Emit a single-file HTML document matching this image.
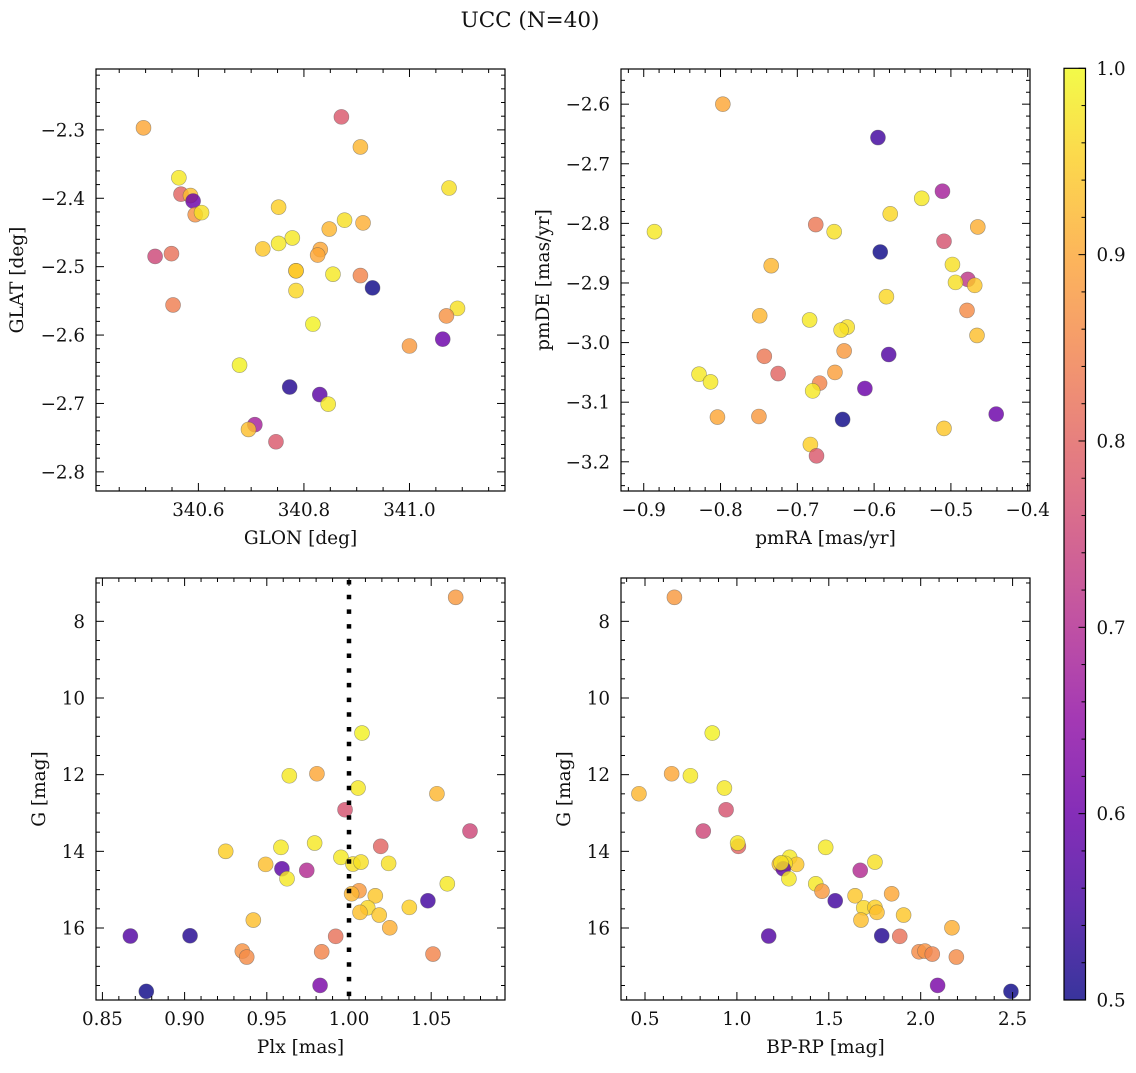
<!DOCTYPE html>
<html><head><meta charset="utf-8">
<style>
html,body{margin:0;padding:0;background:#fff;}
svg text{font-family:"DejaVu Serif","Liberation Serif",serif;fill:#111;}
</style></head>
<body>
<svg id="fig" width="1136" height="1068" viewBox="0 0 1136 1068" xmlns="http://www.w3.org/2000/svg">
<text x="530" y="27" font-size="21.5" text-anchor="middle">UCC (N=40)</text>
</svg>
<script>
// ---------- DATA ----------
const glon = [340.496,340.871,340.907,341.075,340.563,340.567,340.585,340.590,340.594,340.606,340.752,340.877,340.912,340.848,340.778,340.752,340.722,340.831,340.826,340.518,340.549,340.785,340.855,340.907,340.930,340.785,340.552,341.091,341.070,340.817,341.000,341.063,340.678,340.773,340.830,340.846,340.707,340.695,340.747,340.785];
const glat = [-2.297,-2.281,-2.325,-2.385,-2.370,-2.394,-2.396,-2.404,-2.424,-2.421,-2.413,-2.432,-2.436,-2.445,-2.458,-2.466,-2.474,-2.475,-2.483,-2.485,-2.481,-2.506,-2.511,-2.513,-2.531,-2.535,-2.556,-2.561,-2.572,-2.584,-2.616,-2.606,-2.644,-2.676,-2.687,-2.701,-2.731,-2.738,-2.756,-2.506];
const probA = [0.90,0.78,0.92,0.97,0.98,0.80,0.93,0.60,0.87,0.97,0.95,0.97,0.91,0.92,0.98,0.98,0.94,0.90,0.90,0.75,0.82,0.90,0.98,0.85,0.50,0.96,0.84,0.97,0.87,0.99,0.88,0.60,0.99,0.52,0.58,0.98,0.68,0.93,0.78,0.95];

const pmra = [-0.797,-0.595,-0.511,-0.538,-0.579,-0.676,-0.652,-0.886,-0.465,-0.509,-0.592,-0.498,-0.734,-0.478,-0.494,-0.469,-0.584,-0.479,-0.749,-0.684,-0.635,-0.643,-0.466,-0.639,-0.581,-0.743,-0.828,-0.725,-0.651,-0.813,-0.671,-0.612,-0.680,-0.441,-0.804,-0.750,-0.641,-0.509,-0.683,-0.675];
const pmde = [-2.600,-2.656,-2.746,-2.758,-2.784,-2.802,-2.814,-2.814,-2.806,-2.830,-2.848,-2.869,-2.871,-2.894,-2.899,-2.904,-2.923,-2.946,-2.955,-2.962,-2.974,-2.979,-2.988,-3.014,-3.020,-3.023,-3.053,-3.052,-3.050,-3.066,-3.068,-3.077,-3.081,-3.120,-3.125,-3.124,-3.129,-3.144,-3.171,-3.190];
const probB = [0.90,0.55,0.68,0.98,0.96,0.83,0.97,0.98,0.91,0.77,0.50,0.97,0.92,0.72,0.97,0.94,0.96,0.86,0.92,0.98,0.97,0.97,0.93,0.88,0.57,0.83,0.98,0.80,0.89,0.98,0.85,0.60,0.98,0.60,0.90,0.88,0.50,0.94,0.95,0.78];

const plx = [1.0649,1.0079,0.9637,0.9805,1.0055,1.0535,0.9976,1.0736,1.0193,0.9250,0.9586,0.9791,0.9951,1.0024,1.0073,1.0241,0.9493,0.9592,0.9743,0.9623,1.0598,1.0061,1.0016,1.0160,1.0480,1.0114,1.0367,1.0067,1.0184,0.9418,1.0248,0.8670,0.9033,0.9919,0.9351,0.9378,0.9834,1.0511,0.9824,0.8767];
const gmagC = [7.374,10.914,12.028,11.976,12.349,12.498,12.915,13.471,13.870,14.000,13.896,13.784,14.157,14.332,14.280,14.314,14.340,14.454,14.496,14.715,14.846,15.028,15.107,15.159,15.289,15.472,15.462,15.592,15.662,15.793,15.994,16.210,16.202,16.218,16.602,16.758,16.620,16.680,17.497,17.653];
const probC = [0.88,0.99,0.98,0.90,0.98,0.92,0.77,0.75,0.80,0.95,0.98,0.98,0.98,0.97,0.97,0.97,0.93,0.58,0.70,0.98,0.98,0.88,0.92,0.94,0.55,0.96,0.95,0.93,0.94,0.93,0.91,0.57,0.52,0.82,0.87,0.86,0.85,0.85,0.62,0.50];

const bprp = [0.660,0.866,0.645,0.747,0.467,0.932,0.941,0.817,1.008,1.004,1.483,1.751,1.231,1.287,1.325,1.262,1.252,1.671,1.283,1.429,1.463,1.643,1.842,1.535,1.690,1.751,1.762,1.907,1.675,2.170,1.173,1.788,1.886,1.991,2.023,2.063,2.194,2.092,2.491,1.240];
const gmagD = [7.374,10.914,11.976,12.028,12.498,12.349,12.915,13.471,13.870,13.784,13.896,14.280,14.332,14.157,14.340,14.314,14.454,14.496,14.715,14.846,15.040,15.159,15.107,15.289,15.472,15.462,15.592,15.662,15.793,15.994,16.210,16.202,16.218,16.620,16.602,16.680,16.758,17.497,17.653,14.300];
const probD = [0.88,0.99,0.90,0.98,0.92,0.98,0.77,0.75,0.80,0.98,0.98,0.97,0.93,0.98,0.94,0.97,0.58,0.70,0.98,0.98,0.88,0.94,0.90,0.55,0.96,0.95,0.93,0.94,0.93,0.91,0.57,0.52,0.82,0.86,0.87,0.85,0.86,0.62,0.50,0.97];

const cbTicks = [0.5,0.6,0.7,0.8,0.9,1.0];

// ---------- HELPERS ----------
const NS = "http://www.w3.org/2000/svg";
const svg = document.getElementById('fig');
function el(tag, attrs, parent){ const e=document.createElementNS(NS,tag); for(const k in attrs) e.setAttribute(k,attrs[k]); (parent||svg).appendChild(e); return e; }
const plasmaStops = ["#0d0887","#41049d","#6a00a8","#8f0da4","#b12a90","#cc4778","#e16462","#f2844b","#fca636","#fcce25","#f0f921"];
function hex(h){return [parseInt(h.substr(1,2),16),parseInt(h.substr(3,2),16),parseInt(h.substr(5,2),16)];}
function plasma(t){ t=Math.max(0,Math.min(1,t)); const f=t*10; const i=Math.min(9,Math.floor(f)); const r=f-i; const a=hex(plasmaStops[i]), b=hex(plasmaStops[i+1]); return 'rgb('+a.map((v,k)=>Math.round(v+(b[k]-v)*r)).join(',')+')'; }
function fmt(v,d){ const s=Math.abs(v).toFixed(d); return (v<-1e-9?'\u2212':'')+s; }
const TFS = 18.3, LFS = 18.5;

function panel(o){
  const {name,x0,y0,x1,y1,xd,yd,xs,ys,cs,xMaj,xMin,yMaj,yMin,xDec,yDec,xlabel,ylabel,ylabelX} = o;
  const g = el('g',{});
  
  
  const sx = v => x0 + (v-xd[0])/(xd[1]-xd[0])*(x1-x0);
  const sy = v => y1 - (v-yd[0])/(yd[1]-yd[0])*(y1-y0);
  const eps=1e-9;
  const pg = el('g',{},g);
  
  
  for(let i=0;i<xs.length;i++){
    const c = el('circle',{cx:sx(xs[i]).toFixed(2),cy:sy(ys[i]).toFixed(2),r:7.5,fill:plasma((cs[i]-0.5)/0.5),'fill-opacity':0.82,stroke:'#555','stroke-opacity':0.55,'stroke-width':0.6},pg);
    
    
  }
  if(o.extra) o.extra(g,sx,sy);
  const tg = el('g',{stroke:'#000','stroke-width':1},g);
  const xmin=Math.min(xd[0],xd[1]), xmax=Math.max(xd[0],xd[1]);
  const ymin=Math.min(yd[0],yd[1]), ymax=Math.max(yd[0],yd[1]);
  for(let v=Math.ceil(xmin/xMin-eps)*xMin; v<=xmax+eps; v+=xMin){
    const isMaj = Math.abs(v/xMaj-Math.round(v/xMaj))<1e-6; const L=isMaj?8:4; const x=sx(v);
    el('line',{x1:x,x2:x,y1:y1,y2:y1-L},tg); el('line',{x1:x,x2:x,y1:y0,y2:y0+L},tg);
    if(isMaj){ const t=el('text',{x:x,y:y1+25,'font-size':TFS,'text-anchor':'middle'},g); t.textContent=fmt(v,xDec);
        }
  }
  for(let v=Math.ceil(ymin/yMin-eps)*yMin; v<=ymax+eps; v+=yMin){
    const isMaj = Math.abs(v/yMaj-Math.round(v/yMaj))<1e-6; const L=isMaj?8:4; const y=sy(v);
    el('line',{x1:x0,x2:x0+L,y1:y,y2:y},tg); el('line',{x1:x1,x2:x1-L,y1:y,y2:y},tg);
    if(isMaj){ const t=el('text',{x:x0-11,y:y+6.5,'font-size':TFS,'text-anchor':'end'},g); t.textContent=fmt(v,yDec);
        }
  }
  const fr = el('rect',{x:x0,y:y0,width:x1-x0,height:y1-y0,fill:'none',stroke:'#000','stroke-width':1.2},g);
   
  const xl = el('text',{x:(x0+x1)/2,y:y1+53,'font-size':LFS,'text-anchor':'middle'},g); xl.textContent=xlabel;
   
  const yc=(y0+y1)/2;
  const yl = el('text',{x:ylabelX,y:yc,'font-size':LFS,'text-anchor':'middle',transform:'rotate(-90 '+ylabelX+' '+yc+')'},g); yl.textContent=ylabel;
   
}

panel({name:'glon-glat-panel',x0:96,y0:69,x1:505,y1:491,xd:[340.406,341.181],yd:[-2.828,-2.211],xs:glon,ys:glat,cs:probA,
  xMaj:0.2,xMin:0.05,yMaj:0.1,yMin:0.02,xDec:1,yDec:1,xlabel:'GLON [deg]',ylabel:'GLAT [deg]',ylabelX:23});
panel({name:'pm-panel',x0:621,y0:69,x1:1030,y1:491,xd:[-0.9296,-0.397],yd:[-3.249,-2.541],xs:pmra,ys:pmde,cs:probB,
  xMaj:0.1,xMin:0.02,yMaj:0.1,yMin:0.02,xDec:1,yDec:1,xlabel:'pmRA [mas/yr]',ylabel:'pmDE [mas/yr]',ylabelX:549});
panel({name:'plx-g-panel',x0:96,y0:578,x1:505,y1:1000,xd:[0.8461,1.0949],yd:[17.878,6.870],xs:plx,ys:gmagC,cs:probC,
  xMaj:0.05,xMin:0.01,yMaj:2,yMin:0.5,xDec:2,yDec:0,xlabel:'Plx [mas]',ylabel:'G [mag]',ylabelX:45,
  extra:(g,sx,sy)=>{ const l=el('line',{x1:sx(1.0),x2:sx(1.0),y1:580,y2:1000,stroke:'#000','stroke-width':4.5,'stroke-dasharray':'4.5 10.2'},g);
      }});
panel({name:'cmd-panel',x0:621,y0:578,x1:1030,y1:1000,xd:[0.3694,2.5947],yd:[17.878,6.870],xs:bprp,ys:gmagD,cs:probD,
  xMaj:0.5,xMin:0.1,yMaj:2,yMin:0.5,xDec:1,yDec:0,xlabel:'BP-RP [mag]',ylabel:'G [mag]',ylabelX:570});

// ---------- COLORBAR ----------
const cb = el('g',{});


const defs = el('defs',{},cb);
const lg = el('linearGradient',{id:'plasmaGrad',x1:0,y1:1,x2:0,y2:0},defs);
for(let i=0;i<=20;i++){ el('stop',{offset:(i/20),'stop-color':plasma(i/20),'stop-opacity':0.82},lg); }
const cbx0=1064, cbx1=1085.5, cby0=68.3, cby1=1000;
el('rect',{x:cbx0,y:cby0,width:cbx1-cbx0,height:cby1-cby0,fill:'url(#plasmaGrad)'},cb);
const csy = v => cby1 - (v-0.5)/0.5*(cby1-cby0);
for(let k=0;k<=25;k++){ const v=0.5+k*0.02; const y=csy(v); const maj=(k%5===0);
  el('line',{x1:cbx1,x2:cbx1-(maj?7:4),y1:y,y2:y,stroke:'#000','stroke-width':1},cb); }
cbTicks.forEach(v=>{ const t=el('text',{x:cbx1+11,y:csy(v)+6.5,'font-size':TFS},cb); t.textContent=v.toFixed(1);
    });
el('rect',{x:cbx0,y:cby0,width:cbx1-cbx0,height:cby1-cby0,fill:'none',stroke:'#000','stroke-width':1.2},cb);
</script>
</body></html>
